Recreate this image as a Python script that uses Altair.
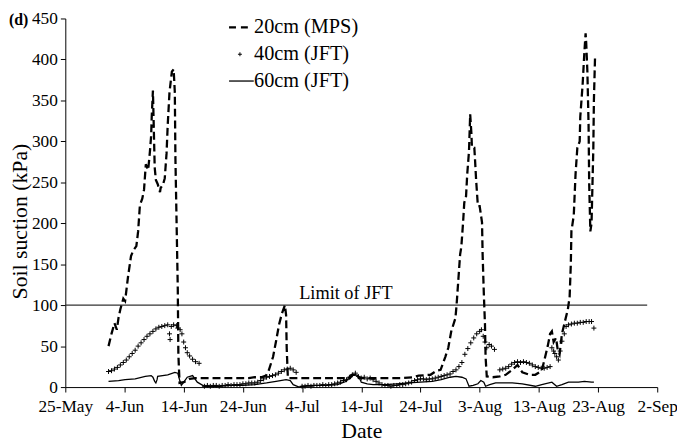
import json
import altair as alt
import pandas as pd

# ---------------- data (day offset from 25-May, soil suction kPa) ----------------
series_names = ["20cm (MPS)", "40cm (JFT)", "60cm (JFT)"]

x_tick_days = [0, 10, 20, 30, 40, 50, 60, 70, 80, 90, 100]
x_tick_labels = ["25-May", "4-Jun", "14-Jun", "24-Jun", "4-Jul", "14-Jul",
                 "24-Jul", "3-Aug", "13-Aug", "23-Aug", "2-Sep"]
y_ticks = [0, 50, 100, 150, 200, 250, 300, 350, 400, 450]

jft_limit = 100
jft_limit_end_day = 98.3

s20 = [(7.3, 50), (7.8, 65), (8.3, 78), (8.7, 70), (9.0, 85), (9.3, 95), (9.8, 108),
       (10.1, 105), (10.6, 135), (11.1, 160), (11.5, 167), (12.0, 172), (12.3, 190),
       (12.6, 222), (13.0, 230), (13.3, 241), (13.6, 272), (14.0, 265), (14.3, 288),
       (14.5, 307), (14.6, 330), (14.8, 362), (15.0, 300), (15.1, 268), (15.3, 253),
       (15.6, 248), (16.0, 238), (16.1, 243), (16.5, 247), (16.8, 255), (17.1, 285),
       (17.3, 320), (17.6, 360), (18.0, 385), (18.3, 388), (18.5, 360), (18.6, 280),
       (18.8, 200), (19.0, 120), (19.1, 40), (19.3, 5), (20.0, 6), (21.0, 10),
       (22, 11), (23, 11), (24, 11), (25, 11), (26, 11), (27, 11), (28, 11), (29, 11),
       (30, 11), (31, 11), (32, 12), (33.1, 12), (33.9, 14), (34.4, 21), (35.1, 37),
       (35.6, 56), (36.1, 76), (36.6, 90), (37.1, 100), (37.3, 88), (37.4, 48),
       (37.6, 11), (38.5, 11), (40, 11), (42, 11), (44, 11), (46, 11), (48.1, 11),
       (48.4, 15), (49.3, 15), (49.6, 11), (51, 11), (53, 11), (55, 11), (57, 11),
       (58.6, 12), (59.7, 14), (61.7, 15), (62.7, 20), (63.4, 21), (64.2, 37),
       (64.7, 48), (65.2, 68), (65.9, 84), (66.1, 100), (66.4, 131), (66.7, 162),
       (66.9, 171), (67.2, 201), (67.4, 225), (67.7, 233), (67.9, 260), (68.2, 288),
       (68.4, 333), (68.6, 310), (68.7, 292), (69.1, 292), (69.2, 280), (69.4, 253),
       (69.7, 221), (70.0, 221), (70.4, 201), (70.5, 162), (70.7, 115), (70.9, 76),
       (71.0, 37), (71.2, 13), (72.2, 12), (73.4, 13), (74.4, 15), (75.5, 21),
       (76.4, 27), (77.2, 18), (78.4, 15), (79.4, 15), (80.5, 20), (81.0, 35),
       (81.5, 50), (81.9, 65), (82.2, 68), (82.5, 55), (82.9, 60), (83.2, 45),
       (83.5, 40), (83.9, 65), (84.4, 80), (84.9, 95), (85.2, 110), (85.4, 150),
       (85.5, 190), (85.9, 210), (86.2, 260), (86.5, 292), (86.9, 300), (87.0, 330),
       (87.4, 370), (87.7, 410), (87.9, 432), (88.0, 420), (88.2, 385), (88.4, 320),
       (88.5, 250), (88.7, 190), (88.9, 200), (89.0, 230), (89.2, 290), (89.3, 350),
       (89.5, 405)]

s40 = [(7.3, 19), (7.8, 20), (8.3, 22), (8.8, 24), (9.3, 27), (9.8, 30), (10.3, 33),
       (10.8, 37), (11.3, 41), (11.8, 45), (12.3, 50), (12.8, 54), (13.3, 58),
       (13.8, 62), (14.3, 65), (14.8, 68), (15.3, 71), (15.8, 73), (16.3, 74),
       (16.8, 75), (17.3, 76), (17.6, 65), (17.7, 58), (17.9, 74), (18.3, 76),
       (18.8, 75), (19.0, 72), (19.4, 70), (19.7, 65), (20.0, 55), (20.3, 48),
       (20.6, 42), (21.0, 38), (21.5, 34), (22.0, 31), (22.6, 29),
       (23.5, 1), (24, 2), (24.5, 1), (25, 2), (25.5, 2), (26, 1), (26.5, 2), (27, 2),
       (27.5, 3), (28, 2), (28.5, 3), (29, 3), (29.5, 3), (30, 4), (30.5, 4), (31, 5),
       (31.5, 5), (32, 5), (32.5, 6), (33, 8), (33.5, 10), (34, 12), (34.5, 13),
       (35, 14), (35.5, 15), (36, 17), (36.5, 19), (37, 21), (37.5, 22), (38, 23),
       (38.5, 21), (39, 18),
       (40, 1), (40.5, 1), (41, 2), (41.5, 1), (42, 2), (42.5, 2), (43, 2), (43.5, 3),
       (44, 2), (44.5, 3), (45, 3), (45.5, 4), (46, 5), (46.5, 6), (47, 8), (47.5, 9),
       (48, 12), (48.5, 15), (49, 17), (49.5, 13), (50, 11), (50.5, 12), (51, 10),
       (51.5, 11), (52, 9), (52.5, 7), (53, 5), (53.5, 3), (54, 2), (54.5, 2), (55, 1),
       (55.5, 2), (56, 2), (56.5, 3), (57, 3), (57.5, 4), (58, 5), (58.5, 6), (59, 8),
       (59.5, 9), (60, 10), (60.5, 10), (61, 9), (61.5, 10), (62, 10), (62.5, 11),
       (63, 12), (63.5, 13), (64, 14), (64.5, 15), (65, 16), (65.5, 19), (66, 21),
       (66.5, 25), (67, 30), (67.5, 40), (68, 47), (68.5, 54), (69, 60), (69.5, 65),
       (70, 68), (70.3, 70), (70.6, 62), (70.9, 55), (71.2, 48), (71.6, 52), (72, 50),
       (72.5, 46),
       (73.4, 21), (73.9, 22), (74.4, 23), (74.9, 25), (75.4, 28), (75.9, 30),
       (76.4, 31), (76.9, 30), (77.4, 31), (77.9, 30), (78.4, 29), (78.9, 27),
       (79.4, 25), (79.9, 24), (80.4, 23), (80.9, 23), (81.4, 24), (81.9, 25),
       (82.2, 48), (82.5, 44), (82.7, 41), (83.0, 37), (83.3, 33), (83.6, 44),
       (83.9, 56), (84.3, 65), (84.6, 74), (85, 76), (85.5, 77), (86, 78), (86.5, 78),
       (87, 79), (87.5, 79), (88, 80), (88.5, 80), (88.9, 80), (89.3, 72)]

s60 = [(7.3, 7), (9.0, 8), (10.1, 9), (11.8, 10), (13.5, 13), (14.5, 14), (14.8, 12),
       (15.1, 7), (15.3, 5), (15.5, 9), (15.6, 13), (17.3, 15), (18.5, 18), (19.0, 17),
       (19.3, 9), (19.6, 2), (20.1, 7), (20.6, 12), (21.5, 14), (22.3, 6), (23.5, 1),
       (24, 1), (26, 1), (28, 2), (30, 2), (32, 3), (34, 5), (35.6, 7), (37.3, 9),
       (38, 8), (38.5, 3), (39.5, 0), (40, 1), (42, 2), (44, 2), (46, 3), (47.5, 7),
       (48, 13), (49, 15), (49.5, 14), (50, 6), (51, 4), (52, 3), (54, 3), (56, 4),
       (58, 5), (60, 6), (62, 7), (63.5, 9), (65, 12), (66, 13), (67, 12), (67.7, 10),
       (68.2, 1), (68.9, 2), (69.7, 4), (70.2, 8), (70.7, 6), (71, 1), (71.7, 3),
       (72.7, 5), (75.5, 5), (77.2, 4), (79.4, 1), (80.5, 3), (82.2, 6), (83, 1),
       (83.9, 3), (85, 6), (86.7, 6), (87.7, 7), (88.9, 6), (89.3, 6)]

# ---------------- build ----------------
FONT = "Liberation Serif"
PLOT_W, PLOT_H = 599, 373
df20 = pd.DataFrame(s20, columns=["day", "value"])
df40 = pd.DataFrame(s40, columns=["day", "value"])
df60 = pd.DataFrame(s60, columns=["day", "value"])

label_expr = json.dumps(x_tick_labels) + "[round(datum.value / 10)]"

x_enc = alt.X("day:Q",
              scale=alt.Scale(domain=[x_tick_days[0], x_tick_days[-1]], nice=False, zero=False),
              axis=alt.Axis(values=x_tick_days, labelExpr=label_expr, title="Date",
                            labelOverlap=False, labelBound=False, labelFlush=False,
                            titleY=44, titleBaseline="middle", labelPadding=6))
y_enc = alt.Y("value:Q",
              scale=alt.Scale(domain=[y_ticks[0], y_ticks[-1]], nice=False),
              axis=alt.Axis(values=y_ticks, title="Soil suction (kPa)", labelOverlap=False,
                            labelFlush=False,
                            titleAngle=270, titleX=-46, titleY=205,
                            titleBaseline="middle", titleAlign="center", labelPadding=3))

line20 = alt.Chart(df20).mark_line(color="black", strokeWidth=2.3, strokeDash=[8, 4]).encode(x=x_enc, y=y_enc)
line60 = alt.Chart(df60).mark_line(color="black", strokeWidth=1.3).encode(x=x_enc, y=y_enc)
pts40 = alt.Chart(df40).mark_point(shape="M-1,0L1,0M0,-1L0,1", size=25, strokeWidth=1,
                                   color="black", filled=False, opacity=1).encode(x=x_enc, y=y_enc)

rule_df = pd.DataFrame({"day": [x_tick_days[0]], "day2": [jft_limit_end_day], "value": [jft_limit]})
limit_rule = alt.Chart(rule_df).mark_rule(color="#333333", strokeWidth=1.3).encode(
    x="day:Q", x2="day2:Q", y="value:Q")
limit_text = alt.Chart(pd.DataFrame({"day": [47.4], "value": [jft_limit], "t": ["Limit of JFT"]})).mark_text(
    font=FONT, fontSize=18.5, color="black", baseline="alphabetic", dy=-6).encode(
    x="day:Q", y="value:Q", text="t:N")

legend_df = pd.DataFrame({"name": series_names})
leg_y = [9, 36.2, 63.3]
leg_layers = []
for i, name in enumerate(series_names):
    base = alt.Chart(legend_df).transform_filter(alt.datum.name == name)
    leg_layers.append(base.mark_text(font=FONT, fontSize=20.5, align="left", baseline="middle",
                                     color="black").encode(
        x=alt.value(191), y=alt.value(leg_y[i]), text="name:N"))
leg_layers.append(alt.Chart(legend_df).transform_filter(alt.datum.name == series_names[0]).mark_rule(
    color="black", strokeWidth=2.3, strokeDash=[7, 5]).encode(
    x=alt.value(165.7), x2=alt.value(185), y=alt.value(leg_y[0])))
leg_layers.append(alt.Chart(legend_df).transform_filter(alt.datum.name == series_names[1]).mark_point(
    shape="M-1,0L1,0M0,-1L0,1", size=16, strokeWidth=1, color="black", filled=False, opacity=1).encode(
    x=alt.value(176.7), y=alt.value(leg_y[1])))
leg_layers.append(alt.Chart(legend_df).transform_filter(alt.datum.name == series_names[2]).mark_rule(
    color="black", strokeWidth=1.3).encode(
    x=alt.value(165.7), x2=alt.value(190.7), y=alt.value(leg_y[2])))

panel_label = alt.Chart(pd.DataFrame({"t": ["(d)"]})).mark_text(
    font=FONT, fontSize=16, fontWeight="bold", align="left", baseline="middle", color="black").encode(
    x=alt.value(-57), y=alt.value(2), text="t:N")

chart = alt.layer(limit_rule, line60, pts40, line20, limit_text, panel_label, *leg_layers).properties(
    width=PLOT_W, height=PLOT_H,
    padding={"left": 58, "top": 8, "right": 20, "bottom": 55},
    autosize="none",
    background="white",
).configure_view(stroke=None).configure_axis(
    grid=False, domainColor="black", tickColor="black", tickSize=5, domainWidth=1,
    labelFont=FONT, labelFontSize=17.5, labelColor="black",
    titleFont=FONT, titleFontSize=22, titleFontWeight="normal", titleColor="black",
)

chart.save("out.html", embed_options={"renderer": "svg", "actions": False})
